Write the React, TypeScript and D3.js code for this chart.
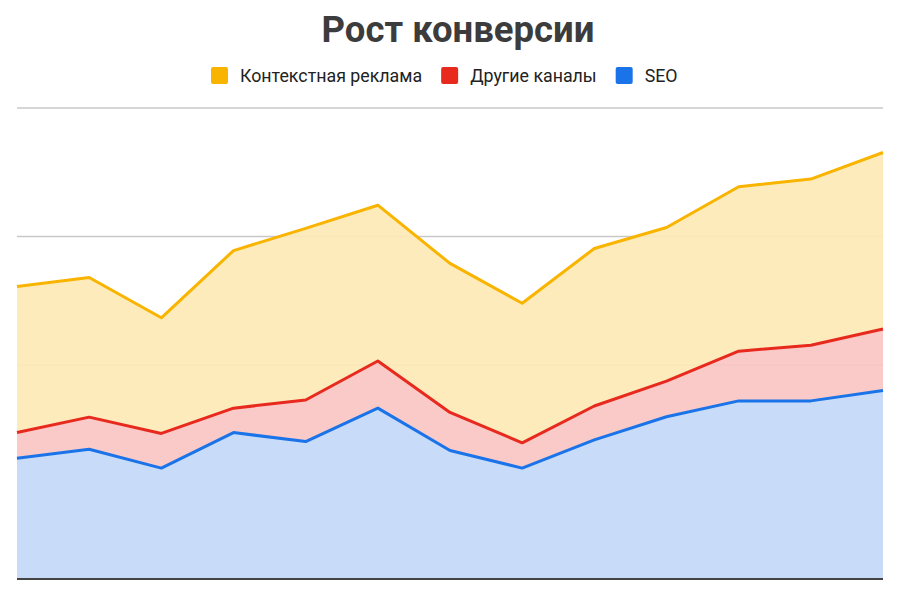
import { useEffect, useRef } from 'react';
import * as d3 from 'd3';

// periods along x (no labels shown on the chart)
const periods = ['1', '2', '3', '4', '5', '6', '7', '8', '9', '10', '11', '12', '13'];

// stacked from bottom to top
const seo = [28.2, 30.3, 25.9, 34.2, 32.1, 39.9, 30.0, 25.9, 32.5, 37.9, 41.6, 41.6, 44.0];
const other = [6.0, 7.5, 8.1, 5.7, 9.7, 11.0, 8.9, 5.9, 7.9, 8.3, 11.6, 13.0, 14.4];
const context = [34.1, 32.6, 27.0, 36.8, 40.1, 36.4, 34.8, 32.6, 36.8, 35.9, 38.4, 38.8, 41.2];

const gridValues = [50, 80, 110];

interface Series {
  key: string;
  label: string;
  line: string;
  fill: string;
}

const series: Series[] = [
  { key: 'seo', label: 'SEO', line: '#1a73e8', fill: '#c4d9f9' },
  { key: 'other', label: 'Другие каналы', line: '#e8291e', fill: '#f9c6c3' },
  { key: 'context', label: 'Контекстная реклама', line: '#f9b400', fill: '#fdeab6' },
];

const legendOrder = ['context', 'other', 'seo'];

const App: React.FC = () => {
  const svgRef = useRef<SVGSVGElement | null>(null);
  const width = 900;
  const height = 600;

  useEffect(() => {
    const svg = d3.select(svgRef.current);
    svg.selectAll('*').remove();

    const margin = { top: 108, right: 17, bottom: 21, left: 17 };

    const rows = periods.map((p, i) => ({
      period: p,
      seo: seo[i],
      other: other[i],
      context: context[i],
    }));

    const stack = d3.stack<any>().keys(series.map((s) => s.key));
    const stacked = stack(rows);

    const x = d3.scalePoint()
      .domain(periods)
      .range([margin.left, width - margin.right]);

    const y = d3.scaleLinear()
      .domain([0, 110])
      .range([height - margin.bottom, margin.top]);

    // gridlines
    svg.append('g')
      .selectAll('line')
      .data(gridValues)
      .join('line')
      .attr('x1', margin.left)
      .attr('x2', width - margin.right)
      .attr('y1', (d) => y(d))
      .attr('y2', (d) => y(d))
      .attr('stroke', '#c8c8c8')
      .attr('stroke-width', 1.5);

    const area = d3.area<any>()
      .x((d) => x(d.data.period) ?? 0)
      .y0((d) => y(d[0]))
      .y1((d) => y(d[1]));

    const line = d3.line<any>()
      .x((d) => x(d.data.period) ?? 0)
      .y((d) => y(d[1]));

    const layers = svg.append('g');
    stacked.forEach((layer, i) => {
      layers.append('path')
        .datum(layer)
        .attr('d', area)
        .attr('fill', series[i].fill)
        .attr('fill-opacity', 0.93);
    });

    stacked.forEach((layer, i) => {
      layers.append('path')
        .datum(layer)
        .attr('d', line)
        .attr('fill', 'none')
        .attr('stroke', series[i].line)
        .attr('stroke-width', 3)
        .attr('stroke-linejoin', 'round');
    });

    // baseline
    svg.append('line')
      .attr('x1', margin.left)
      .attr('x2', width - margin.right)
      .attr('y1', y(0))
      .attr('y2', y(0))
      .attr('stroke', '#444444')
      .attr('stroke-width', 2);

    // title
    svg.append('text')
      .attr('x', 458)
      .attr('y', 42)
      .attr('text-anchor', 'middle')
      .attr('font-family', 'Roboto, sans-serif')
      .attr('font-weight', 'bold')
      .attr('font-size', 36.5)
      .attr('fill', '#3c3c3c')
      .text('Рост конверсии');

    // legend
    const legend = svg.append('g').attr('transform', 'translate(0, 75.5)');
    const items = legendOrder.map((k) => series.find((s) => s.key === k)!);
    let cx = 211;
    items.forEach((s) => {
      const g = legend.append('g').attr('transform', `translate(${cx}, 0)`);
      g.append('rect')
        .attr('x', 0)
        .attr('y', -8.5)
        .attr('width', 17)
        .attr('height', 17)
        .attr('rx', 2)
        .attr('fill', s.line);
      const t = g.append('text')
        .attr('x', 29)
        .attr('y', 6.3)
        .attr('font-family', 'Roboto, sans-serif')
        .attr('font-size', 17.8)
        .attr('fill', '#222222')
        .text(s.label);
      const w = (t.node() as SVGTextElement).getComputedTextLength();
      cx += 29 + w + 19;
    });
  }, []);

  return (
    <svg
      ref={svgRef}
      width={width}
      height={height}
      style={{ display: 'block', position: 'absolute', left: 0, top: 0, background: '#fff' }}
    />
  );
};

export default App;
